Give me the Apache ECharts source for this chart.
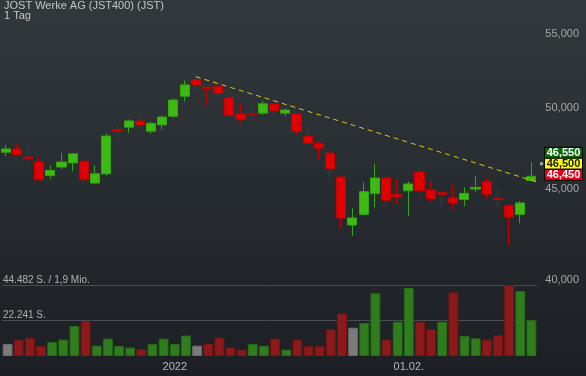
<!DOCTYPE html>
<html>
<head>
<meta charset="utf-8">
<script src="https://cdn.jsdelivr.net/npm/echarts@6/dist/echarts.min.js"></script>
<style>
html, body { margin: 0; padding: 0; background: #1e2226; }
#chart { width: 586px; height: 376px; }
</style>
</head>
<body>
<div id="chart"></div>
<script>
const dates = [
    "2021-12-09", "2021-12-10", "2021-12-13", "2021-12-14", "2021-12-15", "2021-12-16",
    "2021-12-17", "2021-12-20", "2021-12-21", "2021-12-22", "2021-12-23", "2021-12-27",
    "2021-12-28", "2021-12-29", "2021-12-30", "2022-01-03", "2022-01-04", "2022-01-05",
    "2022-01-06", "2022-01-07", "2022-01-10", "2022-01-11", "2022-01-12", "2022-01-13",
    "2022-01-14", "2022-01-17", "2022-01-18", "2022-01-19", "2022-01-20", "2022-01-21",
    "2022-01-24", "2022-01-25", "2022-01-26", "2022-01-27", "2022-01-28", "2022-01-31",
    "2022-02-01", "2022-02-02", "2022-02-03", "2022-02-04", "2022-02-07", "2022-02-08",
    "2022-02-09", "2022-02-10", "2022-02-11", "2022-02-14", "2022-02-15", "2022-02-16"
];

const opens = [
    47200, 47400, 46900, 46600, 45800, 46300, 46550, 46650, 45350, 45900, 48600, 48750,
    49150, 48500, 48900, 49450, 50750, 51850, 51350, 51400, 50650, 49600, 49600, 49650,
    50250, 49650, 49600, 48200, 47750, 47150, 45700, 42950, 43550, 44750, 45650, 44700,
    44900, 46000, 44950, 44800, 44500, 44400, 45000, 45450, 44450, 44050, 43550, 45500
];
const closes = [
    47400, 47050, 46800, 45550, 46100, 46600, 47100, 45550, 45900, 48200, 48500, 49150,
    48900, 49000, 49400, 50500, 51500, 51500, 51250, 50950, 49500, 49250, 49550, 50250,
    49800, 49850, 48500, 47750, 47450, 46200, 43350, 43350, 44850, 45650, 44350, 44550,
    45300, 44900, 44450, 44700, 44200, 44750, 45100, 44700, 44400, 43400, 44200, 45750
];
const lows = [
    46950, 47000, 46600, 45500, 45600, 46150, 46050, 45300, 45300, 45800, 47900, 48400,
    48700, 48350, 48600, 49350, 50400, 51200, 50200, 50650, 49350, 49050, 49200, 49550,
    49550, 49450, 48300, 47650, 46750, 45450, 42750, 42350, 43500, 43950, 43950, 44200,
    43450, 44600, 44250, 43950, 43850, 44000, 44850, 44450, 44000, 41850, 43050, 45500
];
const highs = [
    47650, 47750, 47650, 46850, 46400, 47150, 47150, 46750, 46400, 48350, 48950, 49250,
    49550, 49100, 49500, 50600, 51800, 52050, 51350, 51400, 51000, 50300, 50150, 50450,
    50250, 49950, 49650, 48800, 47850, 47250, 45800, 43900, 45400, 46500, 45700, 45600,
    45450, 46250, 45450, 44850, 45200, 45100, 45750, 45650, 44950, 44150, 44300, 46600
];
const volumes = [
    7500, 10300, 11300, 6300, 8800, 10300, 18800, 21900, 6500, 10900, 6300, 5300,
    4400, 7500, 10900, 7500, 12800, 6500, 7500, 11500, 5300, 4000, 7500, 6300,
    10900, 4000, 10300, 6100, 6100, 16700, 26700, 17700, 20700, 39300, 10300, 21500,
    42600, 21500, 16700, 21500, 39900, 12500, 11100, 10300, 13000, 44482, 40700, 22400
];

// trend line: from the high of 05.01. down to the right edge
const trendIdx = [17, 51.9];
const trendVal = [52050, 44530];

const priceTicks = [40000, 45000, 50000, 55000];
const priceMin = 40000;
const priceMax = 56015;

const volTicks = [22241, 44482];
const volTickLabels = ["22.241 S.", "44.482 S. / 1,9 Mio."];

const quoteVals = [46550, 46500, 46450];
const lastPrice = 46500;

const FONT = "'Liberation Sans', Arial, sans-serif";

function xLabel(i) {
    if (i === 0) return "";
    const d = dates[i], p = dates[i - 1];
    if (d.slice(0, 4) !== p.slice(0, 4)) return d.slice(0, 4);
    if (d.slice(5, 7) !== p.slice(5, 7)) return d.slice(8, 10) + "." + d.slice(5, 7) + ".";
    return "";
}

const candleData = dates.map((d, i) => [
    Math.log(opens[i]), Math.log(closes[i]), Math.log(lows[i]), Math.log(highs[i])
]);

const volData = volumes.map((v, i) => {
    let fill = "#7b7b7b", border = "#6a6a6a";
    if (i > 0 && closes[i] > closes[i - 1]) { fill = "#2f7d1c"; border = "#266a16"; }
    else if (i > 0 && closes[i] < closes[i - 1]) { fill = "#8c1a1a"; border = "#761515"; }
    return { value: v, itemStyle: { color: fill, borderColor: border, borderWidth: 1 } };
});

const chart = echarts.init(document.getElementById("chart"));

chart.setOption({
    animation: false,
    backgroundColor: {
        type: "linear", x: 0, y: 0, x2: 0, y2: 1,
        colorStops: [
            { offset: 0, color: "#32393c" },
            { offset: 1, color: "#1c1f24" }
        ]
    },
    textStyle: { fontFamily: FONT },
    title: {
        text: "JOST Werke AG (JST400) (JST)\n1 Tag",
        left: 4,
        top: 1,
        padding: 0,
        textStyle: { color: "#c4c4c4", fontSize: 11, fontWeight: "normal", lineHeight: 10, fontFamily: FONT }
    },
    grid: [
        { left: 0, width: 537, top: 20, height: 260 },
        { left: 0, width: 537, top: 285, height: 71 }
    ],
    xAxis: [
        { type: "category", gridIndex: 0, data: dates, show: false },
        {
            type: "category",
            gridIndex: 1,
            data: dates,
            axisLine: { show: false },
            axisTick: { show: false },
            splitLine: { show: false },
            axisLabel: {
                interval: (i) => xLabel(i) !== "",
                formatter: (v, i) => xLabel(i),
                color: "#b8b8b8",
                fontSize: 11,
                margin: 5
            }
        },
        { type: "value", gridIndex: 0, min: -0.5, max: 47.5, show: false }
    ],
    yAxis: [
        {
            type: "value",
            gridIndex: 0,
            position: "right",
            min: Math.log(priceMin),
            max: Math.log(priceMax),
            axisLine: { show: false },
            axisTick: { show: false },
            splitLine: { show: false },
            axisLabel: {
                customValues: priceTicks.map(v => Math.log(v)),
                formatter: v => Math.round(Math.exp(v)).toLocaleString("en-US"),
                color: "#a6a6a6",
                fontSize: 11,
                align: "right",
                margin: 42
            }
        },
        {
            type: "value",
            gridIndex: 1,
            min: 0,
            max: 44482,
            axisLine: { show: false },
            axisTick: { show: false, customValues: volTicks },
            splitLine: { show: true, lineStyle: { color: "#474c52", width: 1 } },
            axisLabel: {
                inside: true,
                customValues: volTicks,
                formatter: v => {
                    let k = 0;
                    volTicks.forEach((t, i) => { if (Math.abs(t - v) < Math.abs(volTicks[k] - v)) k = i; });
                    return volTickLabels[k];
                },
                color: "#b0b0b0",
                fontSize: 10,
                align: "left",
                verticalAlign: "bottom",
                margin: 1
            }
        }
    ],
    series: [
        {
            type: "candlestick",
            xAxisIndex: 0,
            yAxisIndex: 0,
            data: candleData,
            barWidth: "86%",
            itemStyle: {
                color: "#3dbb12",
                color0: "#e00000",
                borderColor: "#33a50e",
                borderColor0: "#c40000",
                borderWidth: 1
            }
        },
        {
            type: "bar",
            xAxisIndex: 1,
            yAxisIndex: 1,
            data: volData,
            barWidth: "88%"
        },
        {
            type: "line",
            xAxisIndex: 2,
            yAxisIndex: 0,
            data: trendIdx.map((x, i) => [x, Math.log(trendVal[i])]),
            symbol: "none",
            clip: false,
            silent: true,
            z: 5,
            lineStyle: { color: "#e6c11a", width: 1, type: [5, 4] }
        }
    ]
});

// last quotes boxes on the price scale
const py = chart.convertToPixel({ yAxisIndex: 0 }, Math.log(lastPrice));
const edge = chart.convertToPixel({ xAxisIndex: 2 }, 47.5);
const boxStyles = [
    { fill: "#0a6a0a", text: "#ffffff" },
    { fill: "#ffff00", text: "#1a1a1a" },
    { fill: "#e2001a", text: "#ffffff" }
];
const graphics = [
    { type: "rect", shape: { x: edge + 3, y: py - 1.5, width: 3, height: 3 }, style: { fill: "#a8a8a8" } }
];
quoteVals.forEach((q, i) => {
    const top = py - 16.5 + i * 11;
    graphics.push({
        type: "rect",
        shape: { x: edge + 7.5, y: top, width: 38, height: 11 },
        style: { fill: boxStyles[i].fill, stroke: "#000", lineWidth: 1 }
    });
    graphics.push({
        type: "text",
        x: edge + 26.5,
        y: top + 6,
        style: {
            text: q.toLocaleString("en-US"),
            fill: boxStyles[i].text,
            font: "bold 11px " + FONT,
            align: "center",
            verticalAlign: "middle"
        }
    });
});
chart.setOption({ graphic: graphics });
</script>
</body>
</html>
